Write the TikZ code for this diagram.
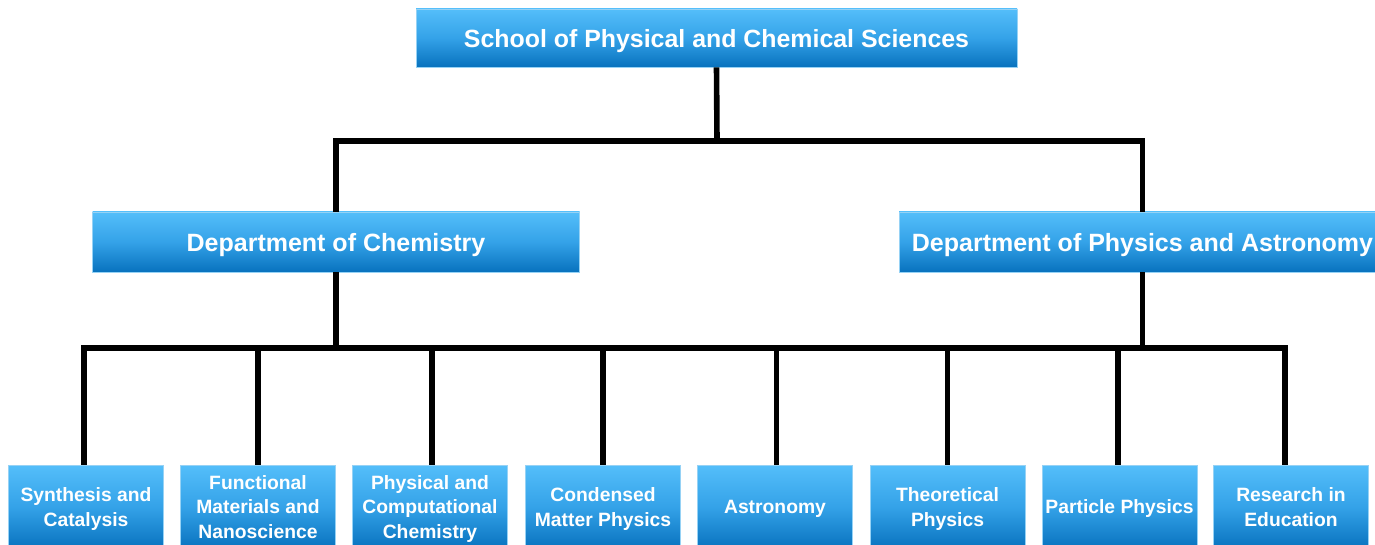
\documentclass[tikz,border=0pt]{standalone}
\usepackage{fontspec}
\setmainfont{Liberation Sans}
\definecolor{boxtop}{RGB}{84,190,250}
\definecolor{boxmid}{RGB}{52,162,232}
\definecolor{boxbot}{RGB}{8,114,190}
\definecolor{boxedge}{RGB}{150,210,245}
\tikzset{
  unitbox/.style={draw=boxedge, line width=0.6pt, top color=boxtop, bottom color=boxbot, middle color=boxmid,
    text=white, inner sep=0pt, align=center, text depth=0pt, font=\bfseries},
  toplevel/.style={unitbox, minimum width=601pt, minimum height=58pt, font=\bfseries\fontsize{24.9}{29}\selectfont},
  deptlevel/.style={unitbox, minimum width=487pt, minimum height=60pt, font=\bfseries\fontsize{25}{29}\selectfont},
  grouplevel/.style={unitbox, minimum width=155pt, minimum height=84pt, font=\bfseries\fontsize{19.3}{24.5}\selectfont},
  conn/.style={line width=5.6pt, black, line join=miter}
}
\begin{document}
\begin{tikzpicture}[x=1pt,y=-1pt]
\useasboundingbox (0,0) rectangle (1375,545);
\node[toplevel] (school) at (716.5,38) {School of Physical and Chemical Sciences};
\node[deptlevel] (chem) at (336,242) {Department of Chemistry};
\node[deptlevel] (phys) at (1142.5,242) {Department of Physics and Astronomy};
\node[grouplevel] (b1) at (86,507) {Synthesis and\\Catalysis};
\node[grouplevel] (b2) at (258,507) {Functional\\Materials and\\Nanoscience};
\node[grouplevel] (b3) at (430,507) {Physical and\\Computational\\Chemistry};
\node[grouplevel] (b4) at (603,507) {Condensed\\Matter Physics};
\node[grouplevel] (b5) at (775,507) {Astronomy};
\node[grouplevel] (b6) at (947.5,507) {Theoretical\\Physics};
\node[grouplevel] (b7) at (1119.5,507) {Particle Physics};
\node[grouplevel] (b8) at (1291,507) {Research in\\Education};
\coordinate (jt) at (717,141);
\coordinate (jc) at (336,348);
\draw[conn] (school.south) -- (jt);
\draw[conn] (chem.north) |- (jt);
\draw[conn] (phys.north) |- (jt);
\draw[conn] (chem.south) -- (jc);
\draw[conn] (phys.south) -- (phys.south |- jc);
\draw[conn] ([xshift=-2pt]b1.north) |- (jc);
\draw[conn] (b2.north) |- (jc);
\draw[conn] ([xshift=2pt]b3.north) |- (jc);
\draw[conn] (b4.north) |- (jc);
\draw[conn] ([xshift=1.5pt]b5.north) |- (jc);
\draw[conn] (b6.north) |- (jc);
\draw[conn] ([xshift=-1.5pt]b7.north) |- (jc);
\draw[conn] ([xshift=-6pt]b8.north) |- (jc);
\end{tikzpicture}
\end{document}
